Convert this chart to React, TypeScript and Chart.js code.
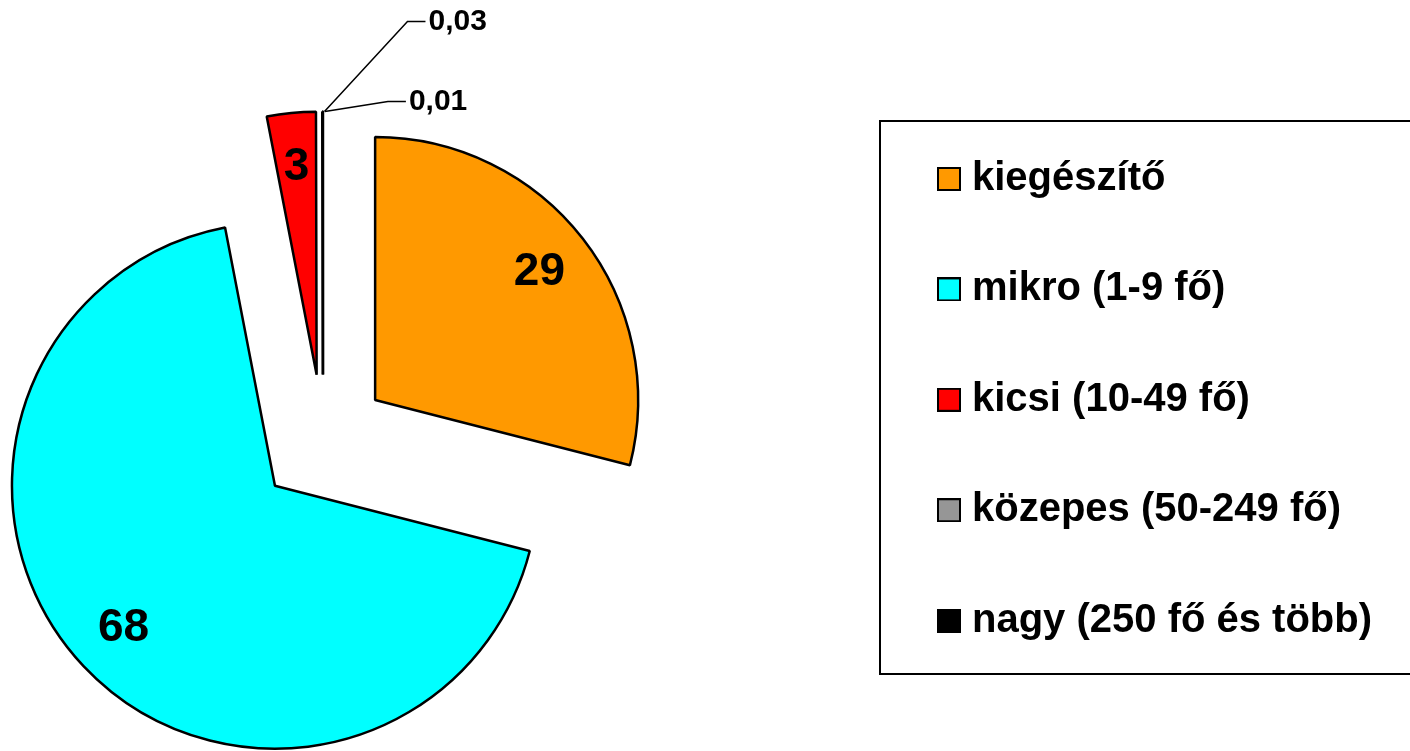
import React, { useEffect, useRef } from 'react';
import { Chart, registerables } from 'chart.js';

Chart.register(...registerables);

const categories = [
  'kiegészítő',
  'mikro (1-9 fő)',
  'kicsi (10-49 fő)',
  'közepes (50-249 fő)',
  'nagy (250 fő és több)',
];
const shares = [29, 68, 3, 0.03, 0.01];
const shareLabels = ['29', '68', '3', '0,03', '0,01'];
const sliceColors = ['#FF9900', '#00FFFF', '#FF0000', '#969696', '#000000'];

const FONT = "'Liberation Sans', Arial, Helvetica, sans-serif";
const RADIUS = 263;
const EXPLODE = 66;
const ARC_OFFSET = EXPLODE * 4;
const LABEL_DIST = 208;
const LEGEND_FONT = 40;
const LEGEND_PAD = 70.4;

function makeSwatch(color: string) {
  const c = document.createElement('canvas');
  c.width = 24;
  c.height = 24;
  const g = c.getContext('2d')!;
  g.fillStyle = '#000';
  g.fillRect(0, 0, 24, 24);
  g.fillStyle = color;
  g.fillRect(2, 2, 20, 20);
  return c;
}

// Chart.js enlarges and narrows exploded slices; keep every slice at the same radius and true angle.
const explodeFix = {
  id: 'explodeFix',
  afterDatasetUpdate(chart: any, args: any) {
    args.meta.data.forEach((arc: any) => {
      const fix = 1 - Math.sin(Math.min(Math.PI, arc.circumference || 0));
      const radiusOffset = (ARC_OFFSET / 4) * fix;
      arc.outerRadius = RADIUS - radiusOffset;
      const widen = radiusOffset / (Math.PI * RADIUS) / 2;
      arc.startAngle -= widen;
      arc.endAngle += widen;
    });
  },
};

const sliceLabels = {
  id: 'sliceLabels',
  afterDatasetsDraw(chart: any) {
    const ctx = chart.ctx;
    const meta = chart.getDatasetMeta(0);
    ctx.save();
    meta.data.forEach((arc: any, i: number) => {
      const mid = (arc.startAngle + arc.endAngle) / 2;
      const ax = arc.x + Math.cos(mid) * EXPLODE;
      const ay = arc.y + Math.sin(mid) * EXPLODE;
      ctx.fillStyle = '#000';
      if (i < 3) {
        ctx.font = `bold 46px ${FONT}`;
        ctx.textAlign = 'center';
        ctx.textBaseline = 'middle';
        ctx.fillText(shareLabels[i], ax + Math.cos(mid) * LABEL_DIST, ay + Math.sin(mid) * LABEL_DIST);
      } else {
        const tx = ax + Math.cos(mid) * RADIUS + 2;
        const ty = ay + Math.sin(mid) * RADIUS;
        const elbow = i === 3 ? { dx: 83, dy: -90 } : { dx: 63, dy: -10 };
        const ex = tx + elbow.dx;
        const ey = ty + elbow.dy;
        ctx.strokeStyle = '#000';
        ctx.lineWidth = 1.5;
        ctx.beginPath();
        ctx.moveTo(tx, ty);
        ctx.lineTo(ex, ey);
        ctx.lineTo(ex + 18, ey);
        ctx.stroke();
        ctx.font = `bold 30px ${FONT}`;
        ctx.textAlign = 'left';
        ctx.textBaseline = 'middle';
        ctx.fillText(shareLabels[i], ex + 21, ey);
      }
    });
    ctx.restore();
  },
};

const legendFrame = {
  id: 'legendFrame',
  afterDraw(chart: any) {
    const lg: any = chart.legend;
    const hb = lg && lg.legendHitBoxes;
    if (!hb || !hb.length) return;
    const first = hb[0];
    const last = hb[hb.length - 1];
    const left = Math.round(first.left - 66);
    const top = Math.round(first.top - 38);
    const bottom = Math.round(last.top + last.height + 33);
    const ctx = chart.ctx;
    ctx.save();
    ctx.strokeStyle = '#000';
    ctx.lineWidth = 2;
    ctx.strokeRect(left, top, chart.width + 10 - left, bottom - top);
    ctx.restore();
  },
};

export default function App() {
  const ref = useRef<HTMLCanvasElement | null>(null);

  useEffect(() => {
    document.body.style.margin = '0';
    const canvas = ref.current;
    if (!canvas) return;
    const swatches = sliceColors.map(makeSwatch);
    const chart = new Chart(canvas, {
      type: 'pie',
      data: {
        labels: categories,
        datasets: [
          {
            data: shares,
            backgroundColor: sliceColors,
            borderColor: '#000000',
            borderWidth: 2.5,
            offset: ARC_OFFSET,
            hoverOffset: ARC_OFFSET,
          },
        ],
      },
      options: {
        responsive: false,
        animation: false,
        events: [],
        radius: RADIUS,
        layout: {
          padding: { top: 0, bottom: 0, left: 0, right: 34.4 },
        },
        plugins: {
          tooltip: { enabled: false },
          title: {
            display: true,
            text: '',
            position: 'right',
            fullSize: false,
            weight: 500,
            font: { size: 10 },
            padding: { top: 108.8, bottom: 108.8 },
          },
          subtitle: {
            display: true,
            text: '',
            position: 'top',
            fullSize: false,
            font: { size: 10 },
            padding: { top: 118, bottom: 0 },
          },
          legend: {
            display: true,
            position: 'right',
            align: 'start',
            fullSize: true,
            maxWidth: 500,
            title: {
              display: true,
              text: '',
              font: { size: 10 },
              padding: { top: 76.6, bottom: 0 },
            },
            labels: {
              usePointStyle: true,
              pointStyleWidth: 6,
              padding: LEGEND_PAD,
              color: '#000000',
              font: { family: FONT, size: LEGEND_FONT, weight: 'bold' },
              generateLabels: () =>
                categories.map((c, i) => ({
                  text: c,
                  fillStyle: sliceColors[i],
                  strokeStyle: '#000000',
                  fontColor: '#000000',
                  lineWidth: 2,
                  pointStyle: swatches[i],
                  hidden: false,
                  index: i,
                  datasetIndex: 0,
                })),
            },
          },
        },
      } as any,
      plugins: [explodeFix, sliceLabels, legendFrame],
    });
    return () => chart.destroy();
  }, []);

  return (
    <div style={{ width: 1410, height: 751, background: '#fff' }}>
      <canvas ref={ref} width={1410} height={751} style={{ display: 'block' }} />
    </div>
  );
}
